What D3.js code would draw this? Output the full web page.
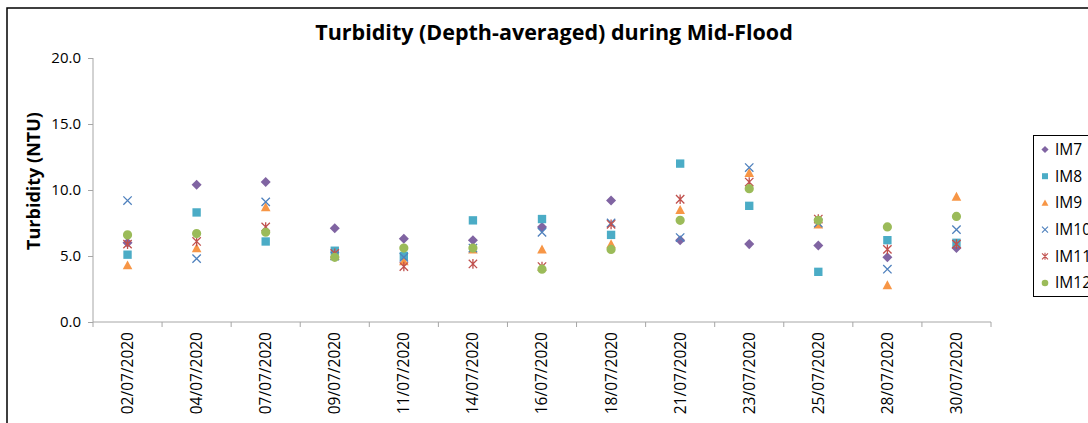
<!DOCTYPE html>
<html><head><meta charset="utf-8">
<script src="https://cdn.jsdelivr.net/npm/d3@7"></script>
<style>body{margin:0;background:#fff}svg{display:block}</style>
</head><body>
<svg id="c" width="1088" height="423"></svg>
<script>
const categories = ["02/07/2020","04/07/2020","07/07/2020","09/07/2020","11/07/2020","14/07/2020","16/07/2020","18/07/2020","21/07/2020","23/07/2020","25/07/2020","28/07/2020","30/07/2020"];
const seriesNames = ["IM7","IM8","IM9","IM10","IM11","IM12"];
const IM7  = [6.0, 10.4, 10.6, 7.1, 6.3, 6.2, 7.2, 9.2, 6.2, 5.9, 5.8, 4.9, 5.6];
const IM8  = [5.1, 8.3, 6.1, 5.4, 5.0, 7.7, 7.8, 6.6, 12.0, 8.8, 3.8, 6.2, 6.0];
const IM9  = [4.3, 5.6, 8.7, 5.0, 4.6, 5.5, 5.5, 5.9, 8.5, 11.3, 7.4, 2.8, 9.5];
const IM10 = [9.2, 4.8, 9.1, 5.0, 4.9, 5.6, 6.8, 7.5, 6.4, 11.7, 7.5, 4.0, 7.0];
const IM11 = [5.9, 6.1, 7.2, 5.2, 4.2, 4.4, 4.2, 7.4, 9.3, 10.6, 7.8, 5.5, 5.9];
const IM12 = [6.6, 6.7, 6.8, 4.9, 5.6, 5.6, 4.0, 5.5, 7.7, 10.1, 7.7, 7.2, 8.0];
const yTicks = [0, 5, 10, 15, 20];
const seriesValues = [IM7, IM8, IM9, IM10, IM11, IM12];

const colors = ["#8064A2","#4BACC6","#F79646","#4F81BD","#C0504D","#9BBB59"];
const FONT = "'Open Sans', sans-serif";

// custom symbol types
const diamond = {draw(ctx, size){ const r = Math.sqrt(size)/2*1.2; ctx.moveTo(0,-r); ctx.lineTo(r,0); ctx.lineTo(0,r); ctx.lineTo(-r,0); ctx.closePath(); }};
const square = {draw(ctx, size){ const r = Math.sqrt(size)/2; ctx.rect(-r,-r,2*r,2*r); }};
const triangle = {draw(ctx, size){ const r = Math.sqrt(size)/2*1.15; ctx.moveTo(0,-r); ctx.lineTo(r,r*0.85); ctx.lineTo(-r,r*0.85); ctx.closePath(); }};
const xmark = {draw(ctx, size){ const r = Math.sqrt(size)/2; ctx.moveTo(-r,-r); ctx.lineTo(r,r); ctx.moveTo(r,-r); ctx.lineTo(-r,r); }};
const star = {draw(ctx, size){ const r = Math.sqrt(size)/2; ctx.moveTo(-r,-r); ctx.lineTo(r,r); ctx.moveTo(r,-r); ctx.lineTo(-r,r); ctx.moveTo(0,-r*1.15); ctx.lineTo(0,r*1.15); }};
const circle = {draw(ctx, size){ const r = Math.sqrt(size)/2*1.1; ctx.moveTo(r,0); ctx.arc(0,0,r,0,2*Math.PI); }};
const types = [diamond, square, triangle, xmark, star, circle];
const filled = [true, true, true, false, false, true];

const svg = d3.select("#c");
// chart frame
svg.append("rect").attr("x",7).attr("y",8).attr("width",1200).attr("height",600)
  .attr("fill","#fff").attr("stroke","#000").attr("stroke-width",1.5);

const x = d3.scaleBand().domain(categories).range([93, 991]).padding(0);
const y = d3.scaleLinear().domain([0, 20]).range([322, 58]);
const axisColor = "#a6a6a6";

// y axis
const gy = svg.append("g").attr("transform","translate(93,0)")
  .call(d3.axisLeft(y).tickValues(yTicks).tickFormat(d3.format(".1f")).tickSize(5).tickPadding(7));
gy.select(".domain").attr("stroke",axisColor).attr("d", `M0,${y(0)}V${y(20)}`);
gy.selectAll(".tick line").attr("stroke",axisColor);
gy.selectAll(".tick text").attr("font-family",FONT).attr("font-size","15px").attr("fill","#000");

// x axis
const gx = svg.append("g").attr("transform",`translate(0,${y(0)})`);
gx.append("line").attr("x1",93).attr("x2",991).attr("y1",0).attr("y2",0).attr("stroke",axisColor);
const bounds = categories.map(c => x(c)).concat([x.range()[1]]);
gx.selectAll("line.tk").data(bounds).join("line").attr("class","tk")
  .attr("x1",d=>d).attr("x2",d=>d).attr("y1",0).attr("y2",5).attr("stroke",axisColor);
gx.selectAll("text").data(categories).join("text")
  .attr("transform", d => `translate(${x(d)+x.bandwidth()/2},10) rotate(-90)`)
  .attr("text-anchor","end").attr("dy","0.35em")
  .attr("font-family",FONT).attr("font-size","15.5px").attr("fill","#000").text(d=>d);

// title
svg.append("text").attr("x",554).attr("y",40).attr("text-anchor","middle")
  .attr("font-family",FONT).attr("font-weight","bold").attr("font-size","21.5px")
  .text("Turbidity (Depth-averaged) during Mid-Flood");
// y label
svg.append("text").attr("transform","translate(40,181) rotate(-90)").attr("text-anchor","middle")
  .attr("font-family",FONT).attr("font-weight","bold").attr("font-size","18px")
  .text("Turbidity (NTU)");

// points
seriesValues.forEach((vals, i) => {
  const sym = d3.symbol().type(types[i]).size(70);
  svg.append("g").selectAll("path").data(vals).join("path")
    .attr("transform",(d,j)=>`translate(${x(categories[j])+x.bandwidth()/2},${y(d)})`)
    .attr("d", sym)
    .attr("fill", filled[i] ? colors[i] : "none")
    .attr("stroke", colors[i])
    .attr("stroke-width", filled[i] ? 0 : 1.3);
});

// legend
const lg = svg.append("g");
lg.append("rect").attr("x",1033.5).attr("y",135.5).attr("width",120).attr("height",161)
  .attr("fill","#fff").attr("stroke","#000").attr("stroke-width",1);
seriesNames.forEach((n, i) => {
  const yy = 149.5 + i*26.7;
  lg.append("path").attr("transform",`translate(1045,${yy})`)
    .attr("d", d3.symbol().type(types[i]).size(36))
    .attr("fill", filled[i] ? colors[i] : "none")
    .attr("stroke", colors[i]).attr("stroke-width", filled[i] ? 0 : 1.1);
  lg.append("text").attr("x",1055).attr("y",yy).attr("dy","0.35em")
    .attr("font-family",FONT).attr("font-size","15.5px").text(n);
});
</script>
</body></html>
